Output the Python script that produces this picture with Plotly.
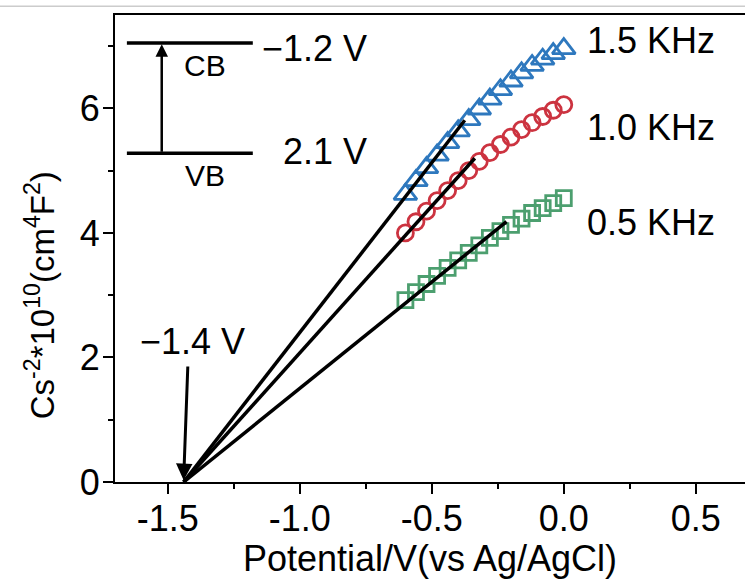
import plotly.graph_objects as go

# ---------------- data ----------------
potential = [-0.60, -0.56, -0.52, -0.48, -0.44, -0.40, -0.36, -0.32,
             -0.28, -0.24, -0.20, -0.16, -0.12, -0.08, -0.04, 0.00]
cs_05khz = [2.92, 3.05, 3.18, 3.31, 3.44, 3.56, 3.68, 3.80,
            3.92, 4.03, 4.13, 4.23, 4.32, 4.40, 4.48, 4.56]
cs_10khz = [4.00, 4.18, 4.35, 4.52, 4.68, 4.84, 5.00, 5.15,
            5.29, 5.42, 5.54, 5.66, 5.77, 5.87, 5.97, 6.06]
cs_15khz = [4.62, 4.84, 5.05, 5.25, 5.45, 5.64, 5.82, 5.99,
            6.15, 6.30, 6.44, 6.57, 6.69, 6.79, 6.88, 6.96]

series_names = ["0.5 KHz", "1.0 KHz", "1.5 KHz"]
fit_x0 = -1.44
fit_end_x = [-0.217, -0.337, -0.375]
fit_end_y = [4.18, 5.20, 5.81]

x_tickvals = [-1.5, -1.0, -0.5, 0.0, 0.5]
x_ticktext = ["-1.5", "-1.0", "-0.5", "0.0", "0.5"]
y_tickvals = [0, 2, 4, 6]

FONT = "Liberation Sans, Arial, sans-serif"
FS = 36

fig = go.Figure()

styles = [
    dict(symbol="square-open", color="#4c9f6f", size=15),
    dict(symbol="circle-open", color="#cc3340", size=16),
    dict(symbol="triangle-up-open", color="#2e78be", size=20),
]
for name, ys, st in zip(series_names, [cs_05khz, cs_10khz, cs_15khz], styles):
    fig.add_trace(go.Scatter(
        x=potential, y=ys, mode="markers", name=name,
        marker=dict(symbol=st["symbol"], size=st["size"], color=st["color"],
                    line=dict(width=2.8, color=st["color"])),
        showlegend=False,
    ))

for ex, ey in zip(fit_end_x, fit_end_y):
    fig.add_trace(go.Scatter(
        x=[fit_x0, ex], y=[0, ey], mode="lines",
        line=dict(color="black", width=3.5), showlegend=False,
    ))

# frequency labels
label_x = 0.08
for txt, ly in zip(["1.5 KHz", "1.0 KHz", "0.5 KHz"], [7.09, 5.70, 4.16]):
    fig.add_annotation(x=label_x, y=ly, text=txt, showarrow=False,
                       xanchor="left", yanchor="middle",
                       font=dict(family=FONT, size=FS, color="black"))

# -1.4 V arrow and label
fig.add_annotation(x=fit_x0, y=0.03, ax=-1.424, ay=1.88, axref="x", ayref="y",
                   xref="x", yref="y", text="", showarrow=True,
                   arrowhead=2, arrowsize=1.1, arrowwidth=3, arrowcolor="black")
fig.add_annotation(x=-1.405, y=2.25, text="\u22121.4 V", showarrow=False,
                   font=dict(family=FONT, size=FS, color="black"))

# band diagram inset
cb_y, vb_y = 7.05, 5.28
bx0, bx1 = -1.655, -1.178
for yy in (cb_y, vb_y):
    fig.add_shape(type="line", x0=bx0, x1=bx1, y0=yy, y1=yy, xref="x", yref="y",
                  line=dict(color="black", width=3.5))
fig.add_annotation(x=-1.523, y=cb_y - 0.02, ax=-1.523, ay=vb_y, axref="x", ayref="y",
                   xref="x", yref="y", text="", showarrow=True,
                   arrowhead=2, arrowsize=1, arrowwidth=2.5, arrowcolor="black")
fig.add_annotation(x=-1.36, y=6.69, text="CB", showarrow=False,
                   font=dict(family=FONT, size=30, color="black"))
fig.add_annotation(x=-1.36, y=4.93, text="VB", showarrow=False,
                   font=dict(family=FONT, size=30, color="black"))
fig.add_annotation(x=-0.943, y=6.97, text="\u22121.2 V", showarrow=False,
                   font=dict(family=FONT, size=FS, color="black"))
fig.add_annotation(x=-0.905, y=5.30, text="2.1 V", showarrow=False,
                   font=dict(family=FONT, size=FS, color="black"))

# y-axis title as rotated annotation
fig.add_annotation(xref="paper", yref="paper", x=-0.119, y=0.40,
                   text="Cs<sup>-2</sup>*10<sup>10</sup>(cm<sup>4</sup>F<sup>2</sup>)",
                   textangle=-90, showarrow=False, xanchor="center", yanchor="middle",
                   font=dict(family=FONT, size=33, color="black"))

# faint top border line
fig.add_shape(type="line", xref="paper", yref="paper", x0=-0.2, x1=1.0,
              y0=1.019, y1=1.019, line=dict(color="#cccccc", width=1.5))

fig.update_xaxes(
    range=[-1.7, 0.6864], showgrid=False, zeroline=False,
    showline=True, linecolor="black", linewidth=2, mirror=True,
    ticks="outside", ticklen=10, tickwidth=2, tickcolor="black",
    tickvals=x_tickvals, ticktext=x_ticktext, ticklabelstandoff=-6,
    minor=dict(ticks="outside", ticklen=5, tickwidth=2, tickcolor="black", dtick=0.25, tick0=-1.5),
    tickfont=dict(family=FONT, size=FS, color="black"),
    title=dict(text="Potential/V(vs Ag/AgCl)", standoff=0,
               font=dict(family=FONT, size=FS, color="black")),
)
fig.update_yaxes(
    range=[0, 7.5], showgrid=False, zeroline=False,
    showline=True, linecolor="black", linewidth=2,
    ticks="outside", ticklen=10, tickwidth=2, tickcolor="black",
    tickvals=y_tickvals, ticklabelstandoff=-4,
    minor=dict(ticks="outside", ticklen=5, tickwidth=2, tickcolor="black", dtick=1, tick0=0),
    tickfont=dict(family=FONT, size=FS, color="black"),
)

fig.update_layout(
    width=745, height=579,
    margin=dict(l=115, r=0, t=15, b=97),
    plot_bgcolor="white", paper_bgcolor="white",
    showlegend=False,
)

fig.write_html("out.html")
